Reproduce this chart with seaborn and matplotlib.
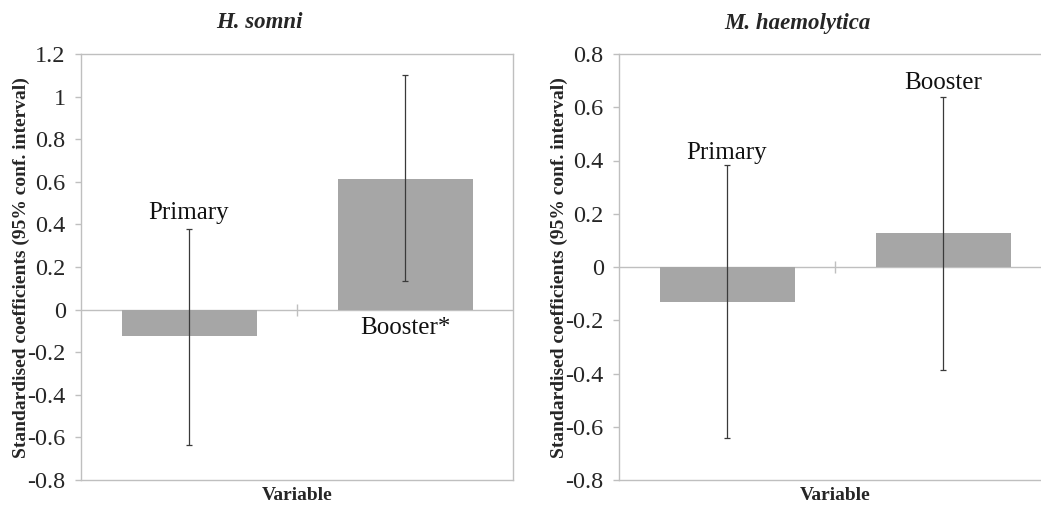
import matplotlib

matplotlib.use("Agg")
import matplotlib.pyplot as plt  # noqa: E402
import pandas as pd  # noqa: E402
import seaborn as sns  # noqa: E402

# values
categories = ["Primary", "Booster"]
somni_coef = [-0.125, 0.615]
somni_low = [-0.638, 0.135]
somni_high = [0.38, 1.10]
somni_labels = ["Primary", "Booster*"]
somni_label_y = [0.455, -0.085]

haem_coef = [-0.13, 0.127]
haem_low = [-0.642, -0.385]
haem_high = [0.383, 0.637]
haem_labels = ["Primary", "Booster"]
haem_label_y = [0.43, 0.69]

BAR = "#a6a6a6"
AXIS = "#bfbfbf"
ERR = "#3a3a3a"

sns.set_style("white")
plt.rcParams["font.family"] = ["Liberation Serif", "DejaVu Serif"]


def draw_panel(fig, rect, title, title_x, ylabel_x, coef, low, high, labels, label_y, ylim, yticks):
    ax = fig.add_axes(rect)
    df = pd.DataFrame({"var": categories, "coef": coef})
    sns.barplot(data=df, x="var", y="coef", color=BAR, width=0.625, saturation=1,
                edgecolor=BAR, linewidth=0, ax=ax)
    xs = range(len(categories))
    yerr = [[c - lo for c, lo in zip(coef, low)], [hi - c for c, hi in zip(coef, high)]]
    ax.errorbar(xs, coef, yerr=yerr, fmt="none", ecolor=ERR, elinewidth=0.9,
                capsize=2.5, capthick=0.9)
    ax.axhline(0, color=AXIS, linewidth=1.0, zorder=0.5)
    for x, lab, y in zip(xs, labels, label_y):
        ax.text(x, y, lab, ha="center", va="center", fontsize=18, color="#111111")
    ax.set_xlim(-0.5, 1.5)
    ax.set_ylim(*ylim)
    ax.set_yticks(yticks)
    ax.set_yticklabels([("%g" % t) for t in yticks], fontsize=17.5)
    ax.set_xticks([])
    ax.set_xlabel("")
    ax.set_ylabel("")
    for s in ax.spines.values():
        s.set_visible(True)
        s.set_color(AXIS)
        s.set_linewidth(1.0)
    ax.tick_params(axis="y", which="major", direction="out", length=4, width=1,
                   color=AXIS, pad=7, left=True)
    # category separator tick on the zero line
    zero_frac = (0 - ylim[0]) / (ylim[1] - ylim[0])
    sec = ax.secondary_xaxis(zero_frac)
    sec.set_xticks([0.5])
    sec.set_xticklabels([""])
    sec.tick_params(direction="inout", length=9, width=1, color=AXIS)
    sec.spines["bottom"].set_visible(False)
    sec.spines["top"].set_visible(False)

    fig.text(title_x, 1 - 23 / 505, title, ha="center", va="center", fontsize=16.5,
             fontweight="bold", fontstyle="italic")
    fig.text(ylabel_x, 1 - 268 / 505, "Standardised coefficients (95% conf. interval)",
             rotation=90, ha="center", va="center", fontsize=14, fontweight="bold")
    cx = rect[0] + rect[2] / 2
    fig.text(cx, 1 - 495 / 505, "Variable", ha="center", va="center", fontsize=14,
             fontweight="bold")
    return ax


W, H = 1041, 505
fig = plt.figure(figsize=(W / 100, H / 100), dpi=100)
draw_panel(fig, [81 / W, 25 / H, 432 / W, 426 / H], "H. somni", 259 / W, 21 / W,
           somni_coef, somni_low, somni_high, somni_labels, somni_label_y,
           (-0.8, 1.2), [-0.8, -0.6, -0.4, -0.2, 0, 0.2, 0.4, 0.6, 0.8, 1, 1.2])
draw_panel(fig, [619 / W, 25 / H, 432 / W, 426 / H], "M. haemolytica", 797 / W, 559 / W,
           haem_coef, haem_low, haem_high, haem_labels, haem_label_y,
           (-0.8, 0.8), [-0.8, -0.6, -0.4, -0.2, 0, 0.2, 0.4, 0.6, 0.8])
fig.savefig("out.png", dpi=100)
plt.close(fig)
